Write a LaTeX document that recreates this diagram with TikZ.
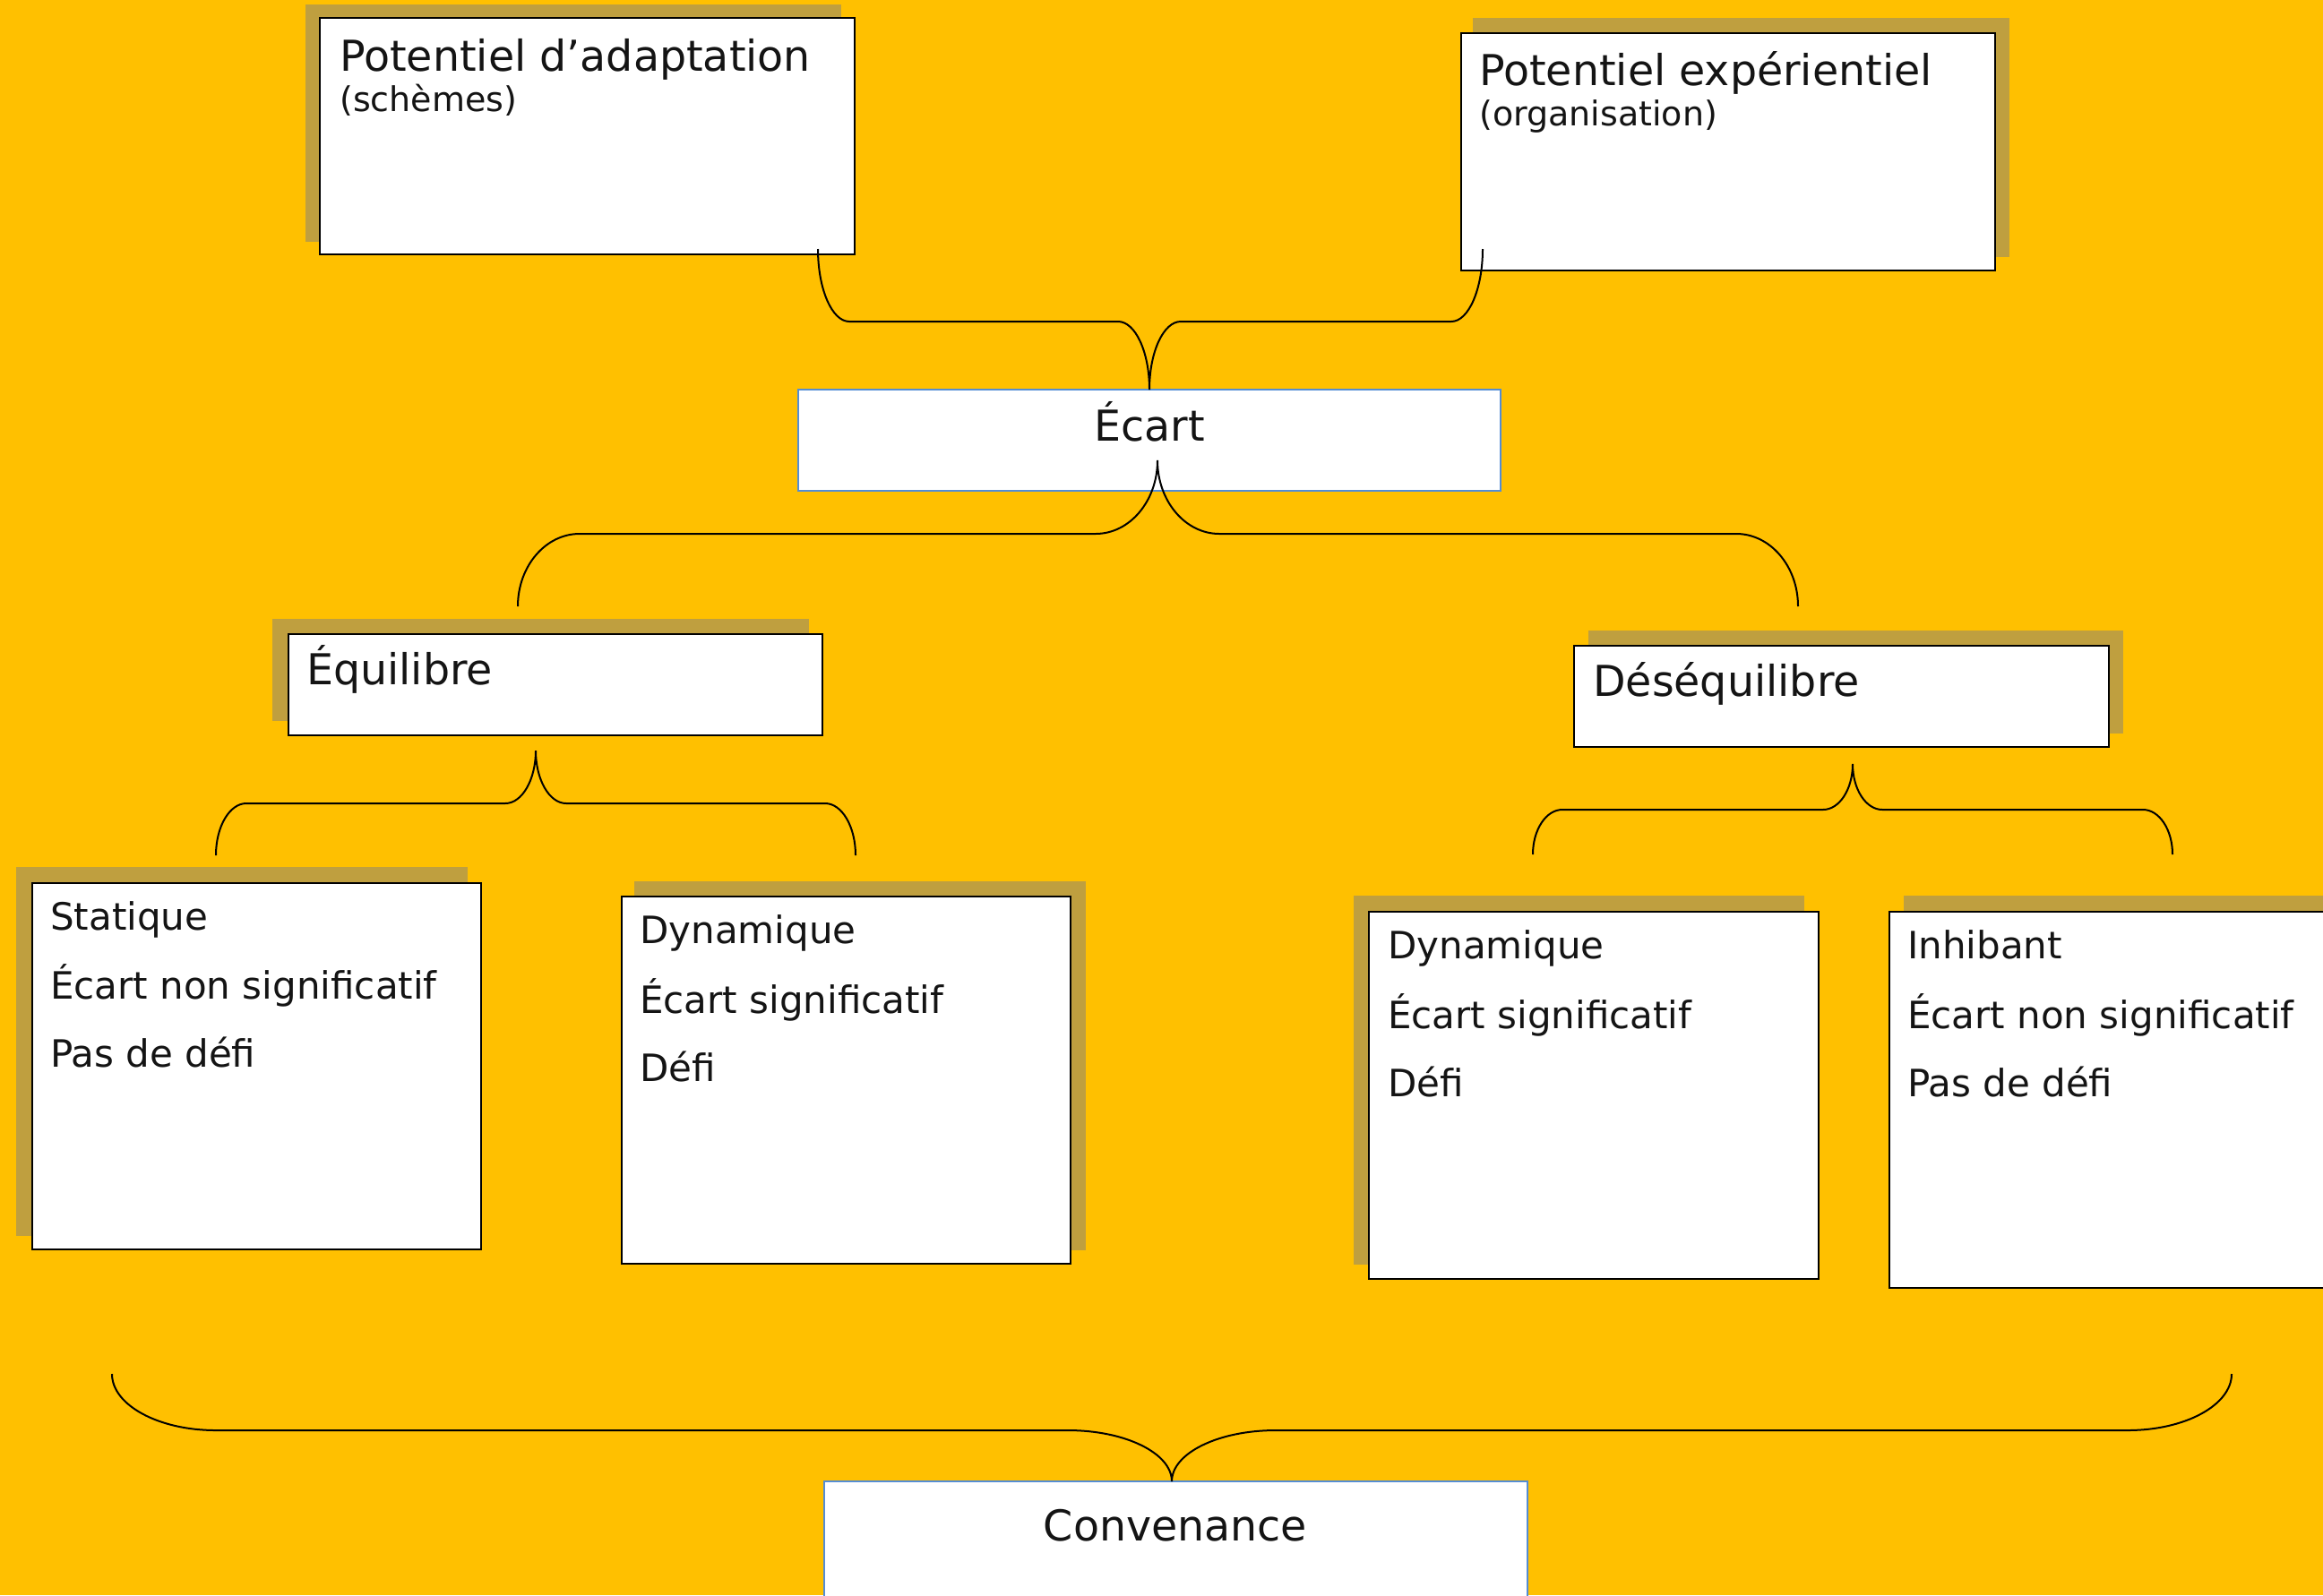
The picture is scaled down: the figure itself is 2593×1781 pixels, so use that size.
\documentclass[tikz,border=0pt]{standalone}
\usepackage{fontspec}
\setmainfont{DejaVu Sans}
\definecolor{bggold}{RGB}{255,192,0}
\definecolor{shadowgold}{RGB}{191,159,63}
\definecolor{boxblue}{RGB}{84,141,212}
\definecolor{inkblack}{RGB}{20,20,20}

% brace connector: #1 name prefix, #2 left x, #3 right x, #4 ends y, #5 middle y, #6 tip x, #7 tip y, #8 corner x radius
\newcommand{\bracepath}[8]{%
  \pgfmathsetmacro\bsgn{(#7>#5)?1:-1}%
  \pgfmathsetmacro\bdA{0.5523*abs(#5-#4)}%
  \pgfmathsetmacro\bdB{0.5523*abs(#7-#5)}%
  \pgfmathsetmacro\bdX{0.5523*#8}%
  \pgfmathsetmacro\bLcx{#2+#8}%
  \pgfmathsetmacro\bTlx{#6-#8}%
  \pgfmathsetmacro\bTrx{#6+#8}%
  \pgfmathsetmacro\bRcx{#3-#8}%
  \pgfmathsetmacro\bangA{-90*\bsgn}%
  \pgfmathsetmacro\bangB{90*\bsgn}%
  \coordinate (#1L) at (#2,#4);
  \coordinate (#1R) at (#3,#4);
  \coordinate (#1T) at (#6,#7);
  \draw[bracestyle] (#1L)
    to[out=\bangA,in=180,out distance=\bdA pt,in distance=\bdX pt] (\bLcx,#5)
    -- (\bTlx,#5)
    to[out=0,in=\bangB,out distance=\bdX pt,in distance=\bdB pt] (#1T)
    to[out=\bangB,in=180,out distance=\bdB pt,in distance=\bdX pt] (\bTrx,#5)
    -- (\bRcx,#5)
    to[out=0,in=\bangA,out distance=\bdX pt,in distance=\bdA pt] (#1R);
}

\tikzset{
  shadowfill/.style={fill=shadowgold, draw=none},
  whitebox/.style={draw=black, line width=2pt, fill=white, inner sep=0pt, outer sep=0pt, anchor=north west},
  bluebox/.style={draw=boxblue, line width=2pt, fill=white, inner sep=0pt, outer sep=0pt, anchor=north west},
  titletext/.style={font=\fontsize{47.5}{58}\selectfont, text=inkblack, inner sep=0pt, anchor=base west},
  centertext/.style={font=\fontsize{47.5}{58}\selectfont, text=inkblack, inner sep=0pt, anchor=base},
  subtext/.style={font=\fontsize{38}{45}\selectfont, text=inkblack, inner sep=0pt, anchor=base west},
  itemtext/.style={font=\fontsize{42}{50}\selectfont, text=inkblack, inner sep=0pt, anchor=base west},
  bracestyle/.style={draw=black, line width=2pt},
}

\begin{document}
\begin{tikzpicture}[x=1pt,y=-1pt]
\useasboundingbox (0,0) rectangle (2593,1781);
\clip (0,0) rectangle (2593,1781);
\fill[bggold] (0,0) rectangle (2593,1781);

% shadows
\fill[shadowfill] (341,5) rectangle (939,270);
\fill[shadowfill] (1644,20) rectangle (2243,287);
\fill[shadowfill] (304,691) rectangle (903,805);
\fill[shadowfill] (1773,704) rectangle (2370,819);
\fill[shadowfill] (18,968) rectangle (522,1380);
\fill[shadowfill] (708,984) rectangle (1212,1396);
\fill[shadowfill] (1511,1000) rectangle (2014,1412);
\fill[shadowfill] (2125,1000) rectangle (2640,1420);

% boxes
\node[whitebox, minimum width=597pt, minimum height=264pt] (adapt) at (357,20) {};
\node[whitebox, minimum width=596pt, minimum height=265pt] (exper) at (1631,37) {};
\node[bluebox, minimum width=784pt, minimum height=113pt] (ecart) at (891,435) {};
\node[whitebox, minimum width=596pt, minimum height=113pt] (equil) at (322,708) {};
\node[whitebox, minimum width=597pt, minimum height=113pt] (desequil) at (1757,721) {};
\node[whitebox, minimum width=501pt, minimum height=409pt] (statique) at (36,986) {};
\node[whitebox, minimum width=501pt, minimum height=410pt] (dynl) at (694,1001) {};
\node[whitebox, minimum width=502pt, minimum height=410pt] (dynr) at (1528,1018) {};
\node[whitebox, minimum width=530pt, minimum height=420pt] (inhib) at (2109,1018) {};
\node[bluebox, minimum width=785pt, minimum height=170pt] (conv) at (920,1654) {};

% texts
\node[titletext] (adaptT) at (379,79) {Potentiel d’adaptation};
\node[subtext] (adaptS) at (379,124) {(schèmes)};
\node[titletext] (experT) at (1651,95) {Potentiel expérientiel};
\node[subtext] (experS) at (1651,140) {(organisation)};
\node[centertext] (ecartT) at (1283,492) {Écart};
\node[titletext] (equilT) at (342,764) {Équilibre};
\node[titletext] (desequilT) at (1778,777) {Déséquilibre};

\node[itemtext] (st1) at (56,1038) {Statique};
\node[itemtext] (st2) at (56,1115) {Écart non significatif};
\node[itemtext] (st3) at (56,1191) {Pas de défi};

\node[itemtext] (dl1) at (714,1053) {Dynamique};
\node[itemtext] (dl2) at (714,1131) {Écart significatif};
\node[itemtext] (dl3) at (714,1207) {Défi};

\node[itemtext] (dr1) at (1549,1070) {Dynamique};
\node[itemtext] (dr2) at (1549,1148) {Écart significatif};
\node[itemtext] (dr3) at (1549,1224) {Défi};

\node[itemtext] (ih1) at (2129,1070) {Inhibant};
\node[itemtext] (ih2) at (2129,1148) {Écart non significatif};
\node[itemtext] (ih3) at (2129,1224) {Pas de défi};

\node[centertext] (convT) at (1312,1720) {Convenance};

% brace connectors
\bracepath{ba}{913}{1655}{278}{359}{1283}{435}{35}
\bracepath{bb}{578}{2007}{677}{596}{1292}{514}{69}
\bracepath{bc}{241}{955}{955}{897}{598}{838}{34}
\bracepath{bd}{1711}{2425}{954}{904}{2068}{853}{33}
\bracepath{be}{125}{2491}{1534}{1597}{1308}{1654}{116}
\end{tikzpicture}
\end{document}
